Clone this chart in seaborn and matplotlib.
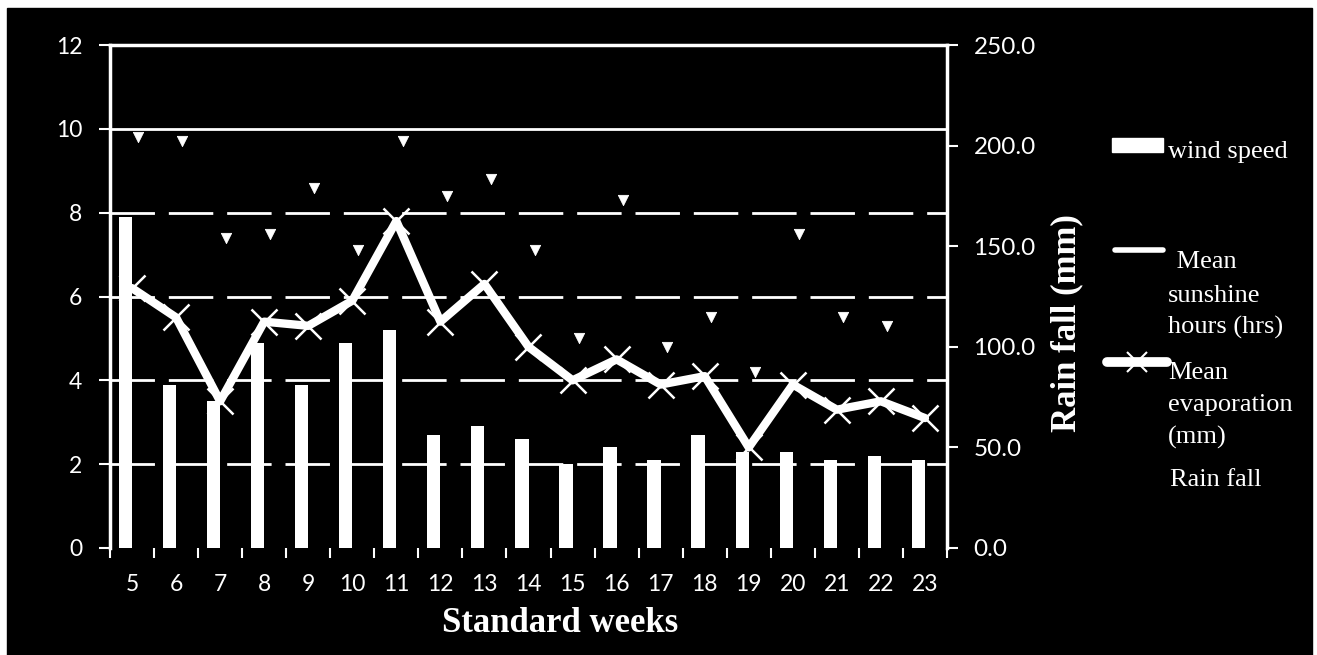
import numpy as np
import pandas as pd
import matplotlib
matplotlib.use("Agg")
import matplotlib.pyplot as plt
import seaborn as sns
from matplotlib.patches import Rectangle
from matplotlib.lines import Line2D

# ---------------- data ----------------
weeks = [str(w) for w in range(5, 24)]
wind_speed = [7.9, 3.9, 3.5, 4.9, 3.9, 4.9, 5.2, 2.7, 2.9, 2.6, 2.0, 2.4, 2.1, 2.7, 2.3, 2.3, 2.1, 2.2, 2.1]
sunshine = [9.8, 9.7, 7.4, 7.5, 8.6, 7.1, 9.7, 8.4, 8.8, 7.1, 5.0, 8.3, 4.8, 5.5, 4.2, 7.5, 5.5, 5.3, np.nan]
evaporation = [6.2, 5.5, 3.5, 5.4, 5.3, 5.9, 7.8, 5.4, 6.3, 4.8, 4.0, 4.5, 3.9, 4.1, 2.4, 3.9, 3.3, 3.5, 3.1]
left_ticks = [0, 2, 4, 6, 8, 10, 12]
right_ticks = [0, 50, 100, 150, 200, 250]
series_names = ["wind speed", "Rain fall"]

sns.set_theme(style="ticks")
plt.rcParams["font.family"] = ["Lato", "DejaVu Sans"]

W, H = 1317, 655
fig = plt.figure(figsize=(W / 100, H / 100), dpi=100, facecolor="white")
fig.patches.append(Rectangle((7 / W, 0), (1312 - 7) / W, 1 - 8 / H,
                             transform=fig.transFigure, color="black", zorder=-5))

ax = fig.add_axes([110 / W, 1 - 548 / H, (947 - 110) / W, (548 - 45) / H])
ax.set_facecolor("black")

# grid lines
for v in [2, 4, 6, 8]:
    ax.axhline(v, color="white", lw=2, dashes=(16, 5), zorder=0.5)
ax.axhline(10, color="white", lw=2, zorder=0.5)

# wind speed bars (left slot of clustered pair)
df = pd.DataFrame({"week": weeks, "value": wind_speed, "series": "wind speed"})
sns.barplot(data=df, x="week", y="value", hue="series", order=weeks,
            hue_order=series_names,
            palette={"wind speed": "white", "Rain fall": "black"},
            width=0.6, dodge=True, saturation=1, ax=ax, legend=False,
            edgecolor="none", zorder=2)

pos = np.arange(len(weeks))
# sunshine dots
sns.scatterplot(x=pos + 0.14, y=sunshine, marker="v", s=55, color="white",
                edgecolor="white", ax=ax, zorder=3, legend=False)
# evaporation line
sns.lineplot(x=pos, y=evaporation, color="white", lw=6, marker="x",
             markersize=19, markeredgewidth=1.8, markeredgecolor="white",
             ax=ax, zorder=4, legend=False)

ax.set_xlim(-0.5, len(weeks) - 0.5)
ax.set_ylim(0, 12)
ax.set_yticks(left_ticks)
ax.set_yticklabels([str(t) for t in left_ticks])
ax.set_xticks(pos)
ax.set_xticklabels(weeks)
ax.set_xticks(np.arange(-0.5, len(weeks), 1.0), minor=True)
ax.tick_params(axis="x", which="major", length=0, pad=19, colors="white", labelsize=16.5)
ax.tick_params(axis="x", which="minor", length=7, width=1.5, color="white", direction="out")
ax.tick_params(axis="y", length=8, width=1.5, color="white", labelcolor="white",
               labelsize=16.5, pad=12, direction="out")
ax.set_xlabel("")
ax.set_ylabel("")
for s in ["left", "top"]:
    ax.spines[s].set_color("white")
    ax.spines[s].set_linewidth(2.5)
ax.spines["bottom"].set_visible(False)
ax.spines["right"].set_visible(False)

ax2 = ax.twinx()
ax2.set_ylim(0, 250)
ax2.set_yticks(right_ticks)
ax2.set_yticklabels([f"{t:.1f}" for t in right_ticks])
ax2.tick_params(axis="y", length=8, width=1.5, color="white", labelcolor="white",
                labelsize=17.5, pad=11, direction="out")
for s in ["left", "top", "bottom"]:
    ax2.spines[s].set_visible(False)
ax2.spines["right"].set_color("white")
ax2.spines["right"].set_linewidth(2.5)

serif = ["Liberation Serif", "DejaVu Serif"]
fig.text(560 / W, 1 - 624 / H, "Standard weeks", ha="center", va="center",
         color="white", fontsize=25, fontweight="bold", family=serif)
fig.text(1067 / W, 1 - 323 / H, "Rain fall (mm)", ha="center", va="center",
         rotation=90, color="white", fontsize=25, fontweight="bold", family=serif)

# legend (custom)
def ltext(x, y, s):
    fig.text(x / W, 1 - y / H, s, ha="left", va="center_baseline",
             color="white", fontsize=19, family=serif)

fig.patches.append(Rectangle((1112 / W, 1 - 152 / H), 51 / W, 14 / H,
                             transform=fig.transFigure, color="white"))
ltext(1168, 150, "wind speed")
fig.lines.append(Line2D([1115 / W, 1163 / W], [1 - 250 / H, 1 - 250 / H],
                        transform=fig.transFigure, color="white", lw=4))
ltext(1170, 260, " Mean")
ltext(1168, 293, "sunshine")
ltext(1168, 325, "hours (hrs)")
fig.lines.append(Line2D([1107 / W, 1167 / W], [1 - 362 / H, 1 - 362 / H],
                        transform=fig.transFigure, color="white", lw=7))
fig.lines.append(Line2D([1137 / W], [1 - 362 / H], transform=fig.transFigure,
                        color="white", marker="x", markersize=14, markeredgewidth=1.5, lw=0))
ltext(1168, 370, "Mean")
ltext(1168, 403, "evaporation")
ltext(1168, 435, "(mm)")
ltext(1170, 477, "Rain fall")

fig.savefig("out.png", dpi=100, facecolor=fig.get_facecolor())
